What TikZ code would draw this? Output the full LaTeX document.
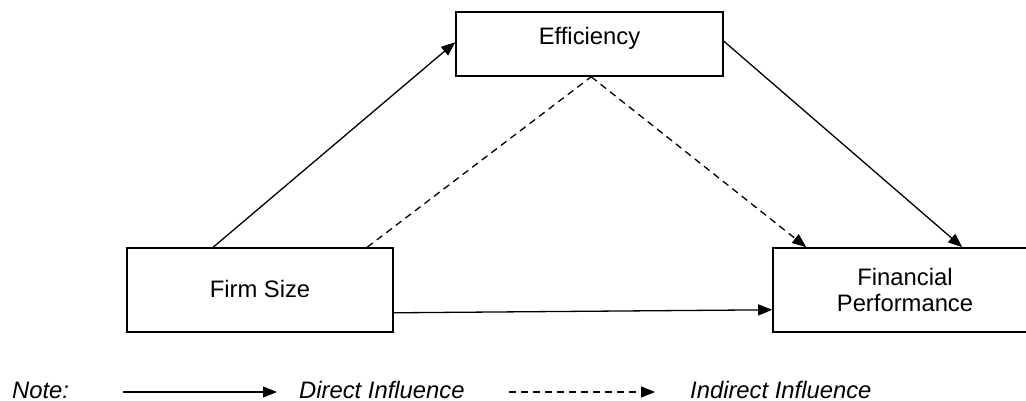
\documentclass[tikz,border=0pt]{standalone}
\usepackage{fontspec}
\setmainfont{Liberation Sans}
\usetikzlibrary{arrows.meta,calc}
\newcommand\diagboxfont{\fontsize{23.8}{26.3}\selectfont}
\newcommand\diaglegfont{\fontsize{23.8}{26.3}\selectfont\itshape}
\begin{document}
\begin{tikzpicture}[x=1pt,y=-1pt,
  box/.style={draw, line width=1.6pt, rectangle, inner sep=0pt, minimum width=266pt, minimum height=84pt, font=\diagboxfont, align=center},
  conn/.style={line width=1.3pt, -{Triangle[length=14pt,width=11pt]}},
  dashline/.style={line width=1.3pt, dash pattern=on 7pt off 5pt},
  dashconn/.style={dashline, -{Triangle[length=14pt,width=11pt]}},
  legend/.style={font=\diaglegfont, inner sep=0pt, anchor=base west}]
\clip (0,0) rectangle (1026,401);
\node[box, minimum width=267pt, minimum height=64pt, text height=17pt, text depth=15pt] (eff) at (589.5,44) {Efficiency};
\node[box, text height=17pt, text depth=3pt] (firm) at (260,290) {Firm Size};
\node[box, minimum width=264pt] (fp) at (905,290) {Financial\\Performance};
% direct influences
\draw[conn] ($(firm.north west)+(87,0)$) -- ($(eff.north west)+(0,31)$);
\draw[conn] ($(eff.north east)+(0,30)$) -- ($(fp.north west)+(190,0)$);
\draw[conn] ($(firm.south east)+(0,-20)$) -- ($(fp.south west)+(0,-23)$);
% indirect influence
\draw[dashline] ($(firm.north west)+(241,0)$) -- ($(eff.south west)+(136,0)$);
\draw[dashconn] ($(eff.south west)+(136,0)$) -- ($(fp.north west)+(34,0)$);
% legend
\node[legend] (note) at (12,398) {Note:};
\coordinate (s1) at (123,392);
\coordinate (s2) at (277,392);
\draw[conn] (s1) -- (s2);
\node[legend] (dir) at (299,398) {Direct Influence};
\coordinate (d1) at (509,392);
\coordinate (d2) at (655,392);
\draw[dashconn] (d1) -- (d2);
\node[legend] (ind) at (690,398) {Indirect Influence};
\end{tikzpicture}
\end{document}
